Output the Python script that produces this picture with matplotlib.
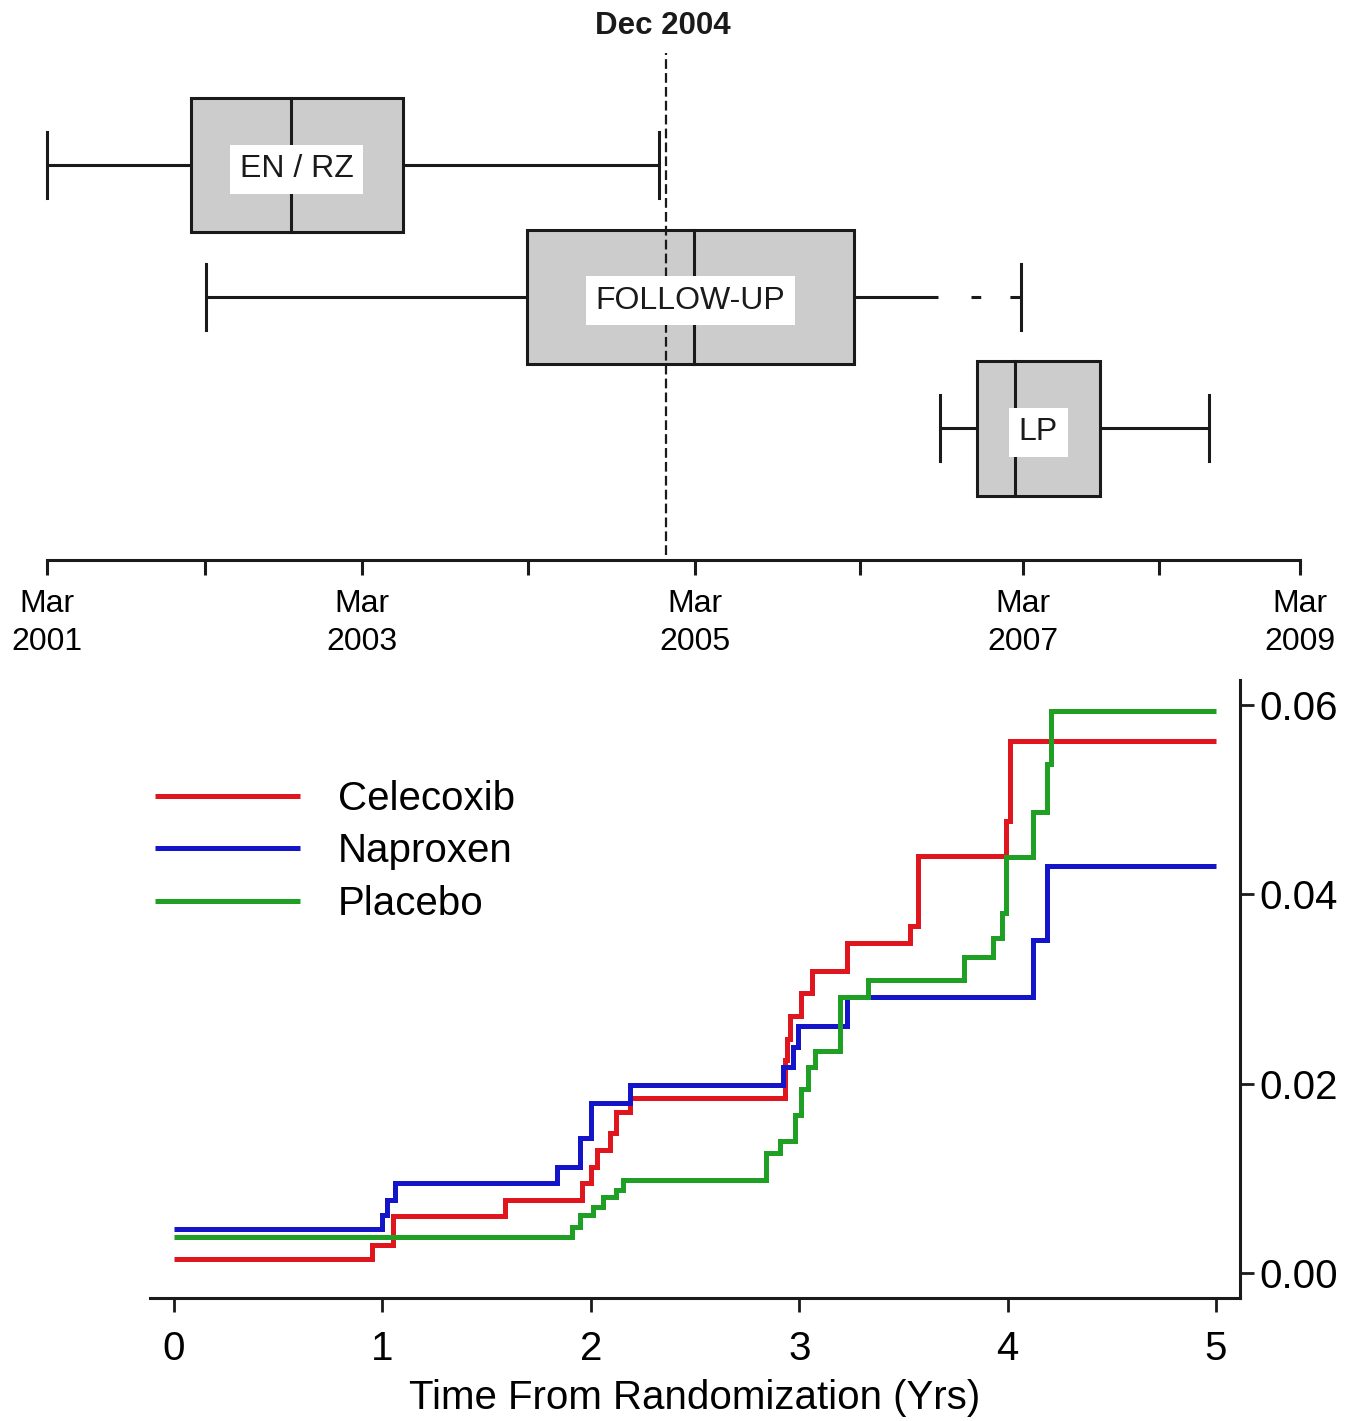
import matplotlib
matplotlib.use('Agg')
import matplotlib.pyplot as plt
from matplotlib.patches import Rectangle
import matplotlib.transforms as mtransforms

plt.rcParams['font.family'] = ['Liberation Sans', 'DejaVu Sans']
plt.rcParams['lines.scale_dashes'] = False

# ---------------- data: top panel (timeline, axis units ~ years from Mar 2001) ----------------
tick_pos = [0, 1.01, 2.01, 3.07, 4.14, 5.19, 6.23, 7.10, 8.0]
tick_labels = ['Mar\n2001', '', 'Mar\n2003', '', 'Mar\n2005', '', 'Mar\n2007', '', 'Mar\n2009']
phases = ['EN / RZ', 'FOLLOW-UP', 'LP']
whislo = [0.0, 1.015, 5.70]
q1 = [0.92, 3.065, 5.94]
med = [1.56, 4.13, 6.18]
q3 = [2.27, 5.15, 6.72]
whishi = [3.91, 6.22, 7.42]
solid_whisker_end = [None, 5.69, None]   # beyond this the whisker is dashed
dec2004 = 3.95
dec2004_label = 'Dec 2004'

# ---------------- data: bottom panel (cumulative incidence) ----------------
t_end = 5.0
cel_t = [0, 0.95, 1.05, 1.59, 1.96, 2.00, 2.03, 2.09, 2.12, 2.19, 2.93, 2.94, 2.955,
         3.01, 3.06, 3.23, 3.53, 3.57, 3.99, 4.01]
cel_v = [0.0015, 0.003, 0.006, 0.0077, 0.0095, 0.0112, 0.013, 0.0148, 0.017, 0.0185,
         0.0225, 0.0247, 0.0271, 0.0296, 0.0319, 0.0349, 0.0367, 0.0440, 0.0477, 0.0562]
nap_t = [0, 1.0, 1.02, 1.06, 1.84, 1.95, 2.0, 2.19, 2.92, 2.97, 2.995, 3.23, 4.12, 4.19]
nap_v = [0.0046, 0.0061, 0.0077, 0.0095, 0.0112, 0.0143, 0.018, 0.0199, 0.0218,
         0.0239, 0.0261, 0.0292, 0.0352, 0.043]
pla_t = [0, 1.91, 1.95, 2.01, 2.06, 2.12, 2.155, 2.84, 2.91, 2.98, 3.01, 3.04, 3.075,
         3.195, 3.33, 3.79, 3.93, 3.975, 3.99, 4.12, 4.19, 4.21]
pla_v = [0.0038, 0.0049, 0.0061, 0.007, 0.008, 0.0088, 0.0098, 0.0127, 0.0139, 0.0167,
         0.0194, 0.0218, 0.0234, 0.0292, 0.0309, 0.0334, 0.0354, 0.0380, 0.0439, 0.0487,
         0.0538, 0.0594]
series_names = ['Celecoxib', 'Naproxen', 'Placebo']
series_colors = ['#e0161e', '#1414c8', '#1fa024']
x_ticks = [0, 1, 2, 3, 4, 5]
y_ticks = [0.0, 0.02, 0.04, 0.06]
y_ticklabels = ['0.00', '0.02', '0.04', '0.06']
x_label = 'Time From Randomization (Yrs)'

# ---------------- figure ----------------
W, H = 1358, 1421
fig = plt.figure(figsize=(W / 100, H / 100), dpi=100)


def frac(l, t, r, b):
    return [l / W, 1 - b / H, (r - l) / W, (b - t) / H]


ink = '#1a1a1a'

# ---- top panel ----
ax1 = fig.add_axes(frac(47, 0, 1300, 560))
ax1.set_xlim(tick_pos[0], tick_pos[-1])
ax1.set_ylim(3.0, -1.255)
for s in ['top', 'left', 'right']:
    ax1.spines[s].set_visible(False)
ax1.spines['bottom'].set_linewidth(2.2)
ax1.spines['bottom'].set_color(ink)
ax1.set_yticks([])
ax1.set_xticks(tick_pos)
ax1.set_xticklabels(tick_labels, fontsize=23, linespacing=1.35)
ax1.tick_params(axis='x', length=11, width=2.2, pad=10, color=ink)

box_h = 1.02
cap_h = 0.5
lw_box = 2.2
for i, name in enumerate(phases):
    ax1.add_patch(Rectangle((q1[i], i - box_h / 2), q3[i] - q1[i], box_h,
                            facecolor='#cccccc', edgecolor=ink, lw=lw_box, zorder=2))
    ax1.plot([med[i], med[i]], [i - box_h / 2, i + box_h / 2], color=ink, lw=lw_box, zorder=3)
    ax1.plot([whislo[i], q1[i]], [i, i], color=ink, lw=lw_box, zorder=2,
             solid_capstyle='butt', clip_on=False)
    if solid_whisker_end[i] is not None:
        ax1.plot([q3[i], solid_whisker_end[i]], [i, i], color=ink, lw=lw_box, zorder=2,
                 solid_capstyle='butt')
        ax1.plot([whishi[i], solid_whisker_end[i]], [i, i], color=ink, lw=lw_box, zorder=2,
                 linestyle=(0, (8, 21, 7, 100)), dash_capstyle='butt')
    else:
        ax1.plot([q3[i], whishi[i]], [i, i], color=ink, lw=lw_box, zorder=2,
                 solid_capstyle='butt')
    for xv in (whislo[i], whishi[i]):
        ax1.plot([xv, xv], [i - cap_h / 2, i + cap_h / 2], color=ink, lw=lw_box, zorder=2,
                 clip_on=False)
    ax1.text((q1[i] + q3[i]) / 2, i + 0.03, name, ha='center', va='center', fontsize=23,
             color=ink, zorder=5,
             bbox=dict(boxstyle='square,pad=0.3', facecolor='white', edgecolor='none'))

ax1.axvline(dec2004, ymin=0.009, ymax=0.905, color=ink, lw=1.6,
            linestyle=(0, (7, 3)), zorder=4)
trans = mtransforms.blended_transform_factory(ax1.transData, ax1.transAxes)
ax1.text(dec2004 - 0.02, 0.953, dec2004_label, transform=trans, ha='center', va='center',
         fontsize=22.5, fontweight='bold', color=ink)

# ---- bottom panel ----
ax2 = fig.add_axes(frac(150, 680, 1240, 1298))
ax2.set_xlim(-0.115, 5.115)
ax2.set_ylim(-0.00264, 0.06264)
for s in ['top', 'left']:
    ax2.spines[s].set_visible(False)
for s in ['right', 'bottom']:
    ax2.spines[s].set_linewidth(2.2)
    ax2.spines[s].set_color(ink)
ax2.yaxis.tick_right()
ax2.set_yticks(y_ticks)
ax2.set_yticklabels(y_ticklabels)
ax2.set_xticks(x_ticks)
ax2.tick_params(axis='y', length=10, width=2, labelsize=29, pad=4, color=ink)
ax2.tick_params(axis='x', length=10, width=2, labelsize=29, pad=13, color=ink)
ax2.set_xlabel(x_label, fontsize=29, labelpad=8)

for tt, vv, name, col in zip([cel_t, nap_t, pla_t], [cel_v, nap_v, pla_v],
                             series_names, series_colors):
    ax2.step(list(tt) + [t_end], list(vv) + [vv[-1]], where='post', color=col,
             lw=3.6, label=name, solid_capstyle='butt', solid_joinstyle='miter')

ax2.legend(loc='upper left', bbox_to_anchor=(155 / W, 1 - 780 / H),
           bbox_transform=fig.transFigure, frameon=False, fontsize=29,
           handlelength=3.6, handletextpad=0.94, labelspacing=0.36,
           borderpad=0, borderaxespad=0)

fig.savefig('out.png', dpi=100)
